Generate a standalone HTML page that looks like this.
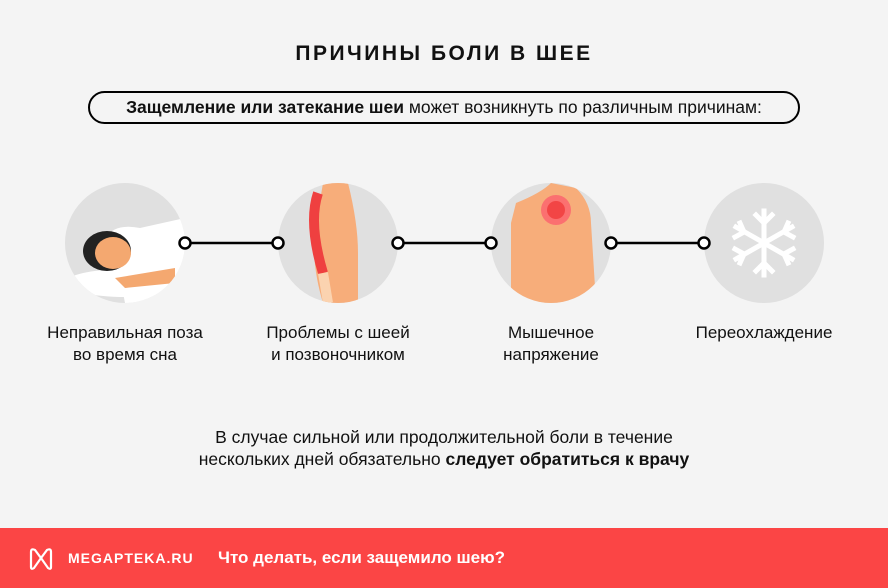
<!DOCTYPE html>
<html><head><meta charset="utf-8"><style>
body{margin:0;width:888px;height:588px;background:#f4f4f4;position:relative;overflow:hidden;font-family:"Liberation Sans",sans-serif;color:#111}
.a{position:absolute}
.t{left:0;width:888px;top:42px;text-align:center;font-weight:bold;font-size:21px;letter-spacing:2.5px}
.pill{left:88px;top:91px;width:708px;height:29px;border:2px solid #000;border-radius:17px;text-align:center;font-size:17.5px;line-height:29px;white-space:nowrap}
.c{width:120px;height:120px;border-radius:50%;background:#e0e0e0;top:183px;overflow:hidden}
.lab{top:322px;width:220px;text-align:center;font-size:17px;line-height:22px;white-space:nowrap}
.note{left:0;width:888px;top:426px;text-align:center;font-size:17.5px;line-height:22px}
.foot{left:0;top:528px;width:888px;height:60px;background:#fb4545;color:#fff}
</style></head><body>
<div class="a t">ПРИЧИНЫ БОЛИ В ШЕЕ</div>
<div class="a pill"><b>Защемление или затекание шеи</b> может возникнуть по различным причинам:</div>
<div class="a c" style="left:65px"><svg width="120" height="120">
<ellipse cx="60" cy="100" rx="60" ry="14" fill="#fff"/>
<path d="M40 55 Q50 40 75 45 L120 35 L120 120 L60 120 Q55 90 40 55Z" fill="#fff"/>
<ellipse cx="42" cy="68" rx="24" ry="20" fill="#222"/>
<ellipse cx="48" cy="70" rx="18" ry="16" fill="#f4a870"/>
<path d="M50 95 L110 85 L110 100 L60 105Z" fill="#f4a870"/></svg></div>
<div class="a c" style="left:278px"><svg width="120" height="120">
<path d="M45 0 L70 0 Q80 40 80 70 L80 120 L45 120 Q30 70 40 30Z" fill="#f7ad7a"/>
<path d="M40 10 Q30 40 45 90" stroke="#ef4040" stroke-width="10" fill="none"/>
<path d="M45 90 L50 120" stroke="#fbd3b0" stroke-width="10"/></svg></div>
<div class="a c" style="left:491px"><svg width="120" height="120">
<path d="M25 20 Q50 10 60 0 L85 5 Q100 20 100 40 L105 120 L20 120 L20 40Z" fill="#f7ad7a"/>
<circle cx="65" cy="27" r="15" fill="#fb7070"/><circle cx="65" cy="27" r="9" fill="#f24545"/></svg></div>
<div class="a c" style="left:704px"><svg width="120" height="120"><g stroke="#fff" stroke-width="5" fill="none" stroke-linecap="square">
<line x1="60" y1="28" x2="60" y2="92"/><line x1="32" y1="44" x2="88" y2="76"/><line x1="32" y1="76" x2="88" y2="44"/>
<path d="M52 32 L60 40 L68 32 M52 88 L60 80 L68 88 M31 54 L40 49 L36 40 M89 66 L80 71 L84 80 M31 66 L40 71 L36 80 M89 54 L80 49 L84 40"/></g></svg></div>
<svg class="a" style="left:0;top:0" width="888" height="300"><g stroke="#000" stroke-width="2.5" fill="#fff">
<line x1="185" y1="243" x2="278" y2="243"/><line x1="398" y1="243" x2="491" y2="243"/><line x1="611" y1="243" x2="704" y2="243"/>
<circle cx="185" cy="243" r="5.5"/><circle cx="278" cy="243" r="5.5"/><circle cx="398" cy="243" r="5.5"/><circle cx="491" cy="243" r="5.5"/><circle cx="611" cy="243" r="5.5"/><circle cx="704" cy="243" r="5.5"/></g></svg>
<div class="a lab" style="left:15px">Неправильная поза<br>во время сна</div>
<div class="a lab" style="left:228px">Проблемы с шеей<br>и позвоночником</div>
<div class="a lab" style="left:441px">Мышечное<br>напряжение</div>
<div class="a lab" style="left:654px">Переохлаждение</div>
<div class="a note">В случае сильной или продолжительной боли в течение<br>нескольких дней обязательно <b>следует обратиться к врачу</b></div>
<div class="a foot">
<svg class="a" style="left:28px;top:18px" width="26" height="26"><path d="M3 21 L3 6 Q3 2 7 4 L13 12 L19 4 Q23 2 23 6 L23 21 Q23 24 20 22 L13 12 L6 22 Q3 24 3 21Z" stroke="#fff" stroke-width="2.2" fill="none"/></svg>
<div class="a" style="left:68px;top:22px;font-weight:bold;font-size:14px;letter-spacing:1px">MEGAPTEKA.RU</div>
<div class="a" style="left:218px;top:20px;font-weight:bold;font-size:17px">Что делать, если защемило шею?</div>
</div>
</body></html>
